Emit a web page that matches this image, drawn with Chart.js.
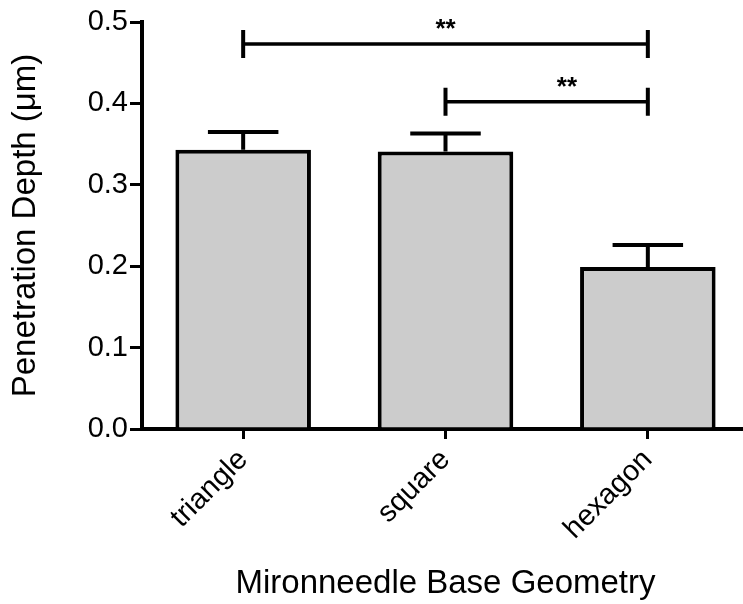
<!DOCTYPE html>
<html>
<head>
<meta charset="utf-8">
<script src="https://cdn.jsdelivr.net/npm/chart.js@4.4.1/dist/chart.umd.min.js"></script>
<style>
    html, body { margin: 0; padding: 0; background: #fff; overflow: hidden; }
    #chart-wrap { width: 749px; height: 604px; }
</style>
</head>
<body>
<div id="chart-wrap"><canvas id="depth-chart" width="749" height="604"></canvas></div>
<script>
const geometries = ['triangle', 'square', 'hexagon'];
const depthMeans = [0.343, 0.341, 0.199];
const depthErrors = [0.022, 0.022, 0.027];
const yTicks = [0.0, 0.1, 0.2, 0.3, 0.4, 0.5];

// significance brackets (category indexes, bracket height, where the stars sit)
const bracketFrom = [0, 1];
const bracketTo = [2, 2];
const bracketLevels = [0.473, 0.402];
const bracketLabelAt = [1.0, 1.6];
const bracketLabels = ['**', '**'];

const FONT = "'Liberation Sans', Arial, sans-serif";

const errorBarPlugin = {
    id: 'errorBars',
    afterDatasetsDraw(chart) {
        const { ctx, scales: { x, y } } = chart;
        const bars = chart.getDatasetMeta(0).data;

        ctx.save();
        ctx.strokeStyle = '#000';
        ctx.lineCap = 'butt';

        // upper error bars only
        ctx.lineWidth = 4;
        bars.forEach((bar, i) => {
            const top = y.getPixelForValue(depthMeans[i] + depthErrors[i]);
            const half = bar.width * 0.26;
            ctx.beginPath();
            ctx.moveTo(bar.x, bar.y);
            ctx.lineTo(bar.x, top);
            ctx.moveTo(bar.x - half, top);
            ctx.lineTo(bar.x + half, top);
            ctx.stroke();
        });

        // brackets with stars
        ctx.fillStyle = '#000';
        ctx.font = 'bold 26px ' + FONT;
        ctx.textAlign = 'center';
        ctx.textBaseline = 'alphabetic';
        bracketLevels.forEach((level, i) => {
            const x1 = x.getPixelForValue(bracketFrom[i]);
            const x2 = x.getPixelForValue(bracketTo[i]);
            const ly = y.getPixelForValue(level);
            ctx.lineWidth = 3.5;
            ctx.beginPath();
            ctx.moveTo(x1, ly);
            ctx.lineTo(x2, ly);
            ctx.stroke();
            ctx.lineWidth = 4;
            ctx.beginPath();
            ctx.moveTo(x1, ly - 14);
            ctx.lineTo(x1, ly + 14);
            ctx.moveTo(x2, ly - 14);
            ctx.lineTo(x2, ly + 14);
            ctx.stroke();

            const lx = x1 + (x2 - x1) * (bracketLabelAt[i] - bracketFrom[i]) / (bracketTo[i] - bracketFrom[i]);
            ctx.fillText(bracketLabels[i], lx, ly - 7);
        });
        ctx.restore();
    }
};

new Chart(document.getElementById('depth-chart'), {
    type: 'bar',
    data: {
        labels: geometries,
        datasets: [{
            data: depthMeans,
            backgroundColor: '#cccccc',
            borderColor: '#000',
            borderWidth: 4,
            categoryPercentage: 1,
            barPercentage: 0.67
        }]
    },
    options: {
        responsive: false,
        animation: false,
        layout: { padding: { top: 22, right: 0, bottom: 0, left: 0 } },
        plugins: {
            legend: { display: false },
            tooltip: { enabled: false }
        },
        scales: {
            x: {
                z: 1,
                afterFit: s => { s.height = 175; },
                ticks: {
                    maxRotation: 45,
                    minRotation: 45,
                    padding: 4,
                    color: '#000',
                    font: { family: FONT, size: 29 }
                },
                grid: {
                    offset: false,
                    drawOnChartArea: false,
                    color: '#000',
                    lineWidth: 3,
                    tickLength: 10
                },
                border: { color: '#000', width: 4 },
                title: {
                    display: true,
                    text: 'Mironneedle Base Geometry',
                    color: '#000',
                    font: { family: FONT, size: 33 },
                    padding: { top: 0, bottom: 0 }
                }
            },
            y: {
                min: 0,
                max: 0.5,
                afterFit: s => { s.width = 142; },
                afterBuildTicks: s => { s.ticks = yTicks.map(v => ({ value: v })); },
                ticks: {
                    padding: 2,
                    color: '#000',
                    font: { family: FONT, size: 29 },
                    callback: v => Number(v).toFixed(1)
                },
                grid: {
                    drawOnChartArea: false,
                    color: '#000',
                    lineWidth: 3,
                    tickLength: 12
                },
                border: { color: '#000', width: 4 },
                title: {
                    display: true,
                    text: 'Penetration Depth (μm)',
                    color: '#000',
                    font: { family: FONT, size: 33 },
                    padding: { top: 6, bottom: 0 }
                }
            }
        }
    },
    plugins: [errorBarPlugin]
});
</script>
</body>
</html>
